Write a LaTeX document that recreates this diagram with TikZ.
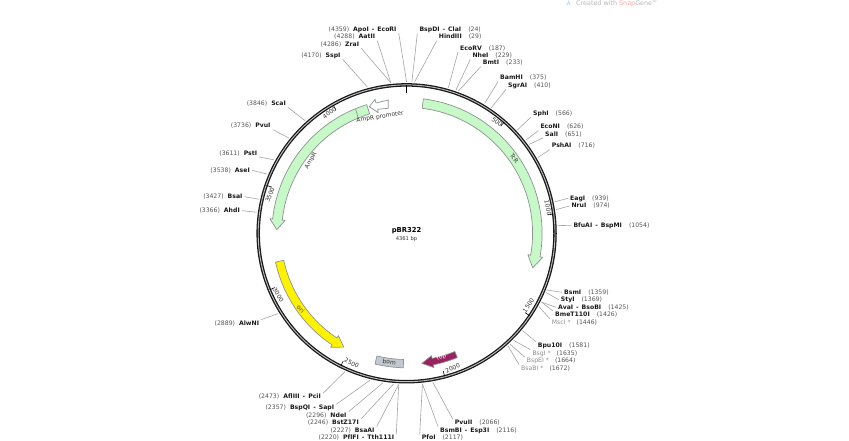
\documentclass[tikz,border=0pt]{standalone}
\usepackage{fontspec}
\setmainfont[Ligatures=NoCommon]{DejaVu Sans}
\definecolor{ampgreen}{HTML}{C6F8C8}
\definecolor{featline}{HTML}{8E9490}
\definecolor{ropred}{HTML}{9C2160}
\definecolor{bomgray}{HTML}{C3C7CF}
\definecolor{numgray}{HTML}{555555}
\definecolor{siteink}{HTML}{1A1A1A}
\definecolor{softink}{HTML}{8C8C8C}
\newcommand{\nm}[1]{{\bfseries\color{siteink}#1}}
\newcommand{\nmsoft}[1]{{\color{softink}#1}}
\newcommand{\num}[1]{{\color{numgray}(#1)}}
% band arrow round the origin: style, start, head base, tip, inner, outer
\newcommand{\genearrow}[6]{
	\draw[#1] plot[domain=#2:#3,samples=40] (\x-90:#6) -- (#3-90:#6+2.8) -- (#4-90:#5/2+#6/2) -- (#3-90:#5-2.8)
		-- plot[domain=#3:#2,samples=40] (\x-90:#5) -- cycle;
}
\tikzset{
	site/.style={inner xsep=2pt,inner ysep=0pt,text height=5.4pt,text depth=1.6pt,font=\fontsize{6.15}{7}\selectfont},
	sitel/.style={site,anchor=east},
	siter/.style={site,anchor=west},
	lead/.style={draw=black!36,line width=0.6pt},
	feat/.style={draw=featline,line width=0.7pt,line join=round},
	small/.style={inner sep=0pt,font=\fontsize{6}{7}\selectfont,text=black!80}
}
\begin{document}
\begin{tikzpicture}[x=1pt,y=-1pt]
	\useasboundingbox (0,0) rectangle (849,441);

	\node[circle,draw=black!90,line width=1.3pt,double=black!25,double distance=0.9pt,minimum size=296.8pt,inner sep=0pt,outer sep=3pt] (ring) at (406.6,233.3) {};

	\begin{scope}[shift={(406.6,233.3)}]
		\foreach \t in {41.27,82.55,123.8,165.1,206.4,247.6,288.9,330.2}
			\draw[line width=0.6pt] (\t-90:148) -- (\t-90:142.5);
		\draw[line width=1.2pt] (-90:148) -- (-90:140);
		\genearrow{feat,fill=ampgreen}{7.1}{100}{105.3}{126}{135.5}
		\genearrow{feat,fill=ampgreen}{342.8}{276.1}{271.6}{125}{134.7}
		\genearrow{feat,fill=yellow}{257.6}{213.7}{208.9}{125.8}{134.2}
		\genearrow{feat,fill=ropred}{157.8}{168.5}{173.3}{127.7}{134.2}
		\draw[feat,fill=bomgray] plot[domain=193.6:181.4,samples=10] (\x-90:126.2) -- plot[domain=181.4:193.6,samples=10] (\x-90:134.5) -- cycle;
	\end{scope}

	\draw[feat] (355.7,109.3) -- (358.3,118.3);
	\draw[feat,fill=white] (369.3,106.7) -- (375,99.3) -- (376,103) -- (388.3,100) -- (388.3,108.3) -- (377.7,109.3) -- (378.3,112.7) -- cycle;

	% centre
	\node[inner sep=0pt,font=\fontsize{6.8}{8}\selectfont\bfseries] (title) at (406.5,230.3) {pBR322};
	\node[small,font=\fontsize{5.2}{6}\selectfont] (size) at (406.5,239) {4361 bp};

	% ruler numbers
	\node[small,rotate=35] (tk4000) at (329.5,113) {4000};
	\node[small,rotate=-39] (tk500) at (497,122) {500};
	\node[small,rotate=-78] (tk1000) at (548,208) {1000};
	\node[small,rotate=55] (tk1500) at (528.5,305.5) {1500};
	\node[small,rotate=25] (tk2000) at (452.7,368.3) {2000};
	\node[small,rotate=-26] (tk2500) at (351.7,363.3) {2500};
	\node[small,rotate=-58] (tk3000) at (278.3,295) {3000};
	\node[small,rotate=68] (tk3500) at (270,195) {3500};

	% feature names
	\node[small,rotate=-55] (tcr) at (514.3,158.3) {TcR};
	\node[small,rotate=60] (ampr) at (311,160.7) {AmpR};
	\node[small,rotate=9] (amppro) at (380,117) {AmpR promoter};
	\node[small,rotate=-47] (ori) at (300.7,309) {ori};
	\node[small,rotate=21,text=white] (rop) at (441.7,358) {rop};
	\node[small,rotate=-7] (bom) at (389.3,361.7) {bom};

	% sites on the left
	\node[sitel] (apoi) at (398.7,29.3) {\num{4359}\hspace{4pt}\nm{ApoI\hspace{3pt}-\hspace{3pt}EcoRI}};
	\node[sitel] (aatii) at (377.3,37) {\num{4288}\hspace{4pt}\nm{AatII}};
	\node[sitel] (zrai) at (361.3,44.7) {\num{4286}\hspace{4pt}\nm{ZraI}};
	\node[sitel] (sspi) at (342.7,55.7) {\num{4170}\hspace{4pt}\nm{SspI}};
	\node[sitel] (scai) at (288,103.7) {\num{3846}\hspace{4pt}\nm{ScaI}};
	\node[sitel] (pvui) at (272.7,126) {\num{3736}\hspace{4pt}\nm{PvuI}};
	\node[sitel] (psti) at (259.3,153.3) {\num{3611}\hspace{4pt}\nm{PstI}};
	\node[sitel] (asei) at (252,170.3) {\num{3538}\hspace{4pt}\nm{AseI}};
	\node[sitel] (bsai) at (244.7,196.7) {\num{3427}\hspace{4pt}\nm{BsaI}};
	\node[sitel] (ahdi) at (242,210.7) {\num{3366}\hspace{4pt}\nm{AhdI}};
	\node[sitel] (alwni) at (261.3,323.3) {\num{2889}\hspace{4pt}\nm{AlwNI}};
	\node[sitel] (afliii) at (323,397) {\num{2473}\hspace{4pt}\nm{AflIII\hspace{3pt}-\hspace{3pt}PciI}};
	\node[sitel] (bspqi) at (336.3,408) {\num{2357}\hspace{4pt}\nm{BspQI\hspace{3pt}-\hspace{3pt}SapI}};
	\node[sitel] (ndei) at (348.7,415.3) {\num{2296}\hspace{4pt}\nm{NdeI}};
	\node[sitel] (bstz) at (361,422.7) {\num{2246}\hspace{4pt}\nm{BstZ17I}};
	\node[sitel] (bsaai) at (376.7,430.3) {\num{2227}\hspace{4pt}\nm{BsaAI}};
	\node[sitel] (pflfi) at (396.3,438) {\num{2220}\hspace{4pt}\nm{PflFI\hspace{3pt}-\hspace{3pt}Tth111I}};

	% sites on the right
	\node[siter] (bspdi) at (417.3,29.7) {\nm{BspDI\hspace{3pt}-\hspace{3pt}ClaI}\hspace{7pt}\num{24}};
	\node[siter] (hindiii) at (436.7,37) {\nm{HindIII}\hspace{7pt}\num{29}};
	\node[siter] (ecorv) at (458,48.3) {\nm{EcoRV}\hspace{7pt}\num{187}};
	\node[siter] (nhei) at (470.3,55.7) {\nm{NheI}\hspace{7pt}\num{229}};
	\node[siter] (bmti) at (480.7,63) {\nm{BmtI}\hspace{7pt}\num{233}};
	\node[siter] (bamhi) at (498,78) {\nm{BamHI}\hspace{7pt}\num{375}};
	\node[siter] (sgrai) at (506,85.7) {\nm{SgrAI}\hspace{7pt}\num{410}};
	\node[siter] (sphi) at (531,113.3) {\nm{SphI}\hspace{7pt}\num{566}};
	\node[siter] (econi) at (538.3,127) {\nm{EcoNI}\hspace{7pt}\num{626}};
	\node[siter] (sali) at (543,134.3) {\nm{SalI}\hspace{7pt}\num{651}};
	\node[siter] (pshai) at (549.7,146) {\nm{PshAI}\hspace{7pt}\num{716}};
	\node[siter] (eagi) at (568,198.3) {\nm{EagI}\hspace{7pt}\num{939}};
	\node[siter] (nrui) at (569.3,206) {\nm{NruI}\hspace{7pt}\num{974}};
	\node[siter] (bfuai) at (571.3,225.7) {\nm{BfuAI\hspace{3pt}-\hspace{3pt}BspMI}\hspace{7pt}\num{1054}};
	\node[siter] (bsmi) at (562,292.3) {\nm{BsmI}\hspace{7pt}\num{1359}};
	\node[siter] (styi) at (558.7,299.7) {\nm{StyI}\hspace{7pt}\num{1369}};
	\node[siter] (avai) at (556,307.3) {\nm{AvaI\hspace{3pt}-\hspace{3pt}BsoBI}\hspace{7pt}\num{1425}};
	\node[siter] (bmet) at (553,314.7) {\nm{BmeT110I}\hspace{7pt}\num{1426}};
	\node[siter] (msci) at (549.7,322.3) {\nmsoft{MscI\hspace{2pt}*}\hspace{6pt}\num{1446}};
	\node[siter] (bpu) at (535.7,345.3) {\nm{Bpu10I}\hspace{7pt}\num{1581}};
	\node[siter] (bsgi) at (530.3,353.3) {\nmsoft{BsgI\hspace{2pt}*}\hspace{6pt}\num{1635}};
	\node[siter] (bspei) at (524.7,360.7) {\nmsoft{BspEI\hspace{2pt}*}\hspace{6pt}\num{1664}};
	\node[siter] (bsabi) at (519,368.3) {\nmsoft{BsaBI\hspace{2pt}*}\hspace{6pt}\num{1672}};
	\node[siter] (pvuii) at (452.7,422.7) {\nm{PvuII}\hspace{7pt}\num{2066}};
	\node[siter] (bsmbi) at (438,430.3) {\nm{BsmBI\hspace{3pt}-\hspace{3pt}Esp3I}\hspace{7pt}\num{2116}};
	\node[siter] (pfoi) at (419.7,438) {\nm{PfoI}\hspace{7pt}\num{2117}};

	% leaders
	\draw[lead] (apoi.south east) -- (ring.90.2);
	\draw[lead] (aatii.south east) -- (ring.96);
	\draw[lead] (zrai.south east) -- (ring.96.2);
	\draw[lead] (sspi.south east) -- (ring.105.8);
	\draw[lead] (scai.south east) -- (ring.132.5);
	\draw[lead] (pvui.south east) -- (ring.141.6);
	\draw[lead] (psti.south east) -- (ring.151.9);
	\draw[lead] (asei.east) -- (ring.157.9);
	\draw[lead] (bsai.east) -- (ring.167.1);
	\draw[lead] (ahdi.east) -- (ring.172.1);
	\draw[lead] (alwni.north east) -- (ring.-148.5);
	\draw[lead] (afliii.north east) -- (ring.-114.1);
	\draw[lead] (bspqi.north east) -- (ring.-104.6);
	\draw[lead] (ndei.north east) -- (ring.-99.5);
	\draw[lead] (bstz.north east) -- (ring.-95.4);
	\draw[lead] (bsaai.north east) -- (ring.-93.8);
	\draw[lead] (pflfi.north east) -- (ring.-93.3);
	\draw[lead] (bspdi.south west) -- (ring.88);
	\draw[lead] (hindiii.south west) -- (ring.87.6);
	\draw[lead] (ecorv.south west) -- (ring.74.6);
	\draw[lead] (nhei.south west) -- (ring.71.1);
	\draw[lead] (bmti.south west) -- (ring.70.8);
	\draw[lead] (bamhi.south west) -- (ring.59);
	\draw[lead] (sgrai.south west) -- (ring.56.2);
	\draw[lead] (sphi.south west) -- (ring.43.3);
	\draw[lead] (econi.south west) -- (ring.38.3);
	\draw[lead] (sali.south west) -- (ring.36.3);
	\draw[lead] (pshai.south west) -- (ring.30.9);
	\draw[lead] (eagi.west) -- (ring.12.5);
	\draw[lead] (nrui.west) -- (ring.9.6);
	\draw[lead] (bfuai.west) -- (ring.3);
	\draw[lead] (bsmi.west) -- (ring.-22.2);
	\draw[lead] (styi.west) -- (ring.-23);
	\draw[lead] (avai.west) -- (ring.-27.6);
	\draw[lead] (bmet.north west) -- (ring.-27.7);
	\draw[lead] (msci.north west) -- (ring.-29.4);
	\draw[lead] (bpu.north west) -- (ring.-40.5);
	\draw[lead] (bsgi.north west) -- (ring.-45);
	\draw[lead] (bspei.north west) -- (ring.-47.4);
	\draw[lead] (bsabi.north west) -- (ring.-48);
	\draw[lead] (pvuii.north west) -- (ring.-80.5);
	\draw[lead] (bsmbi.north west) -- (ring.-84.7);
	\draw[lead] (pfoi.north west) -- (ring.-84.8);

	% corner mark
	\draw[line width=0.9pt,draw=cyan!35] (567,5) -- (568.6,1.5) -- (570,5);
	\node[anchor=west,inner sep=0pt,font=\fontsize{6.4}{7}\selectfont,text=black!28] (mark) at (576,2.6) {Created with {\color{red!35}Snap}Gene\textsuperscript{\tiny®}};
\end{tikzpicture}
\end{document}
